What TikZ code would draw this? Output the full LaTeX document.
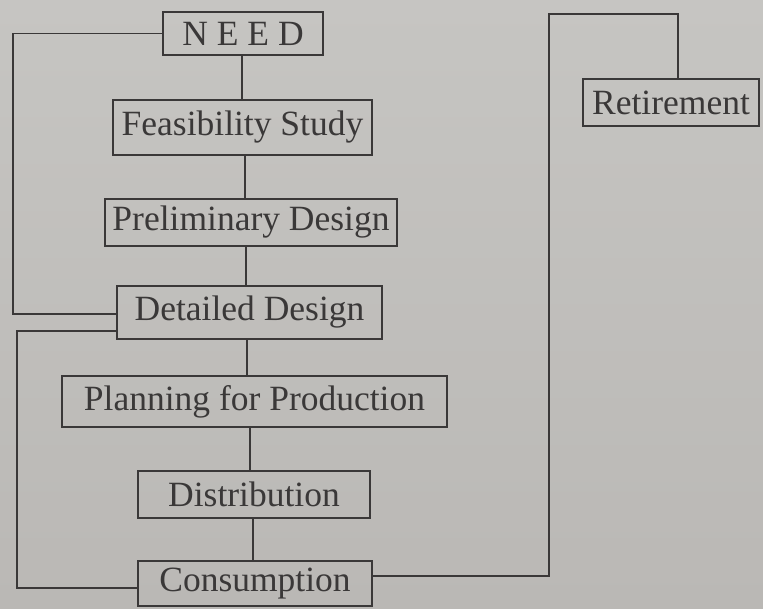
\documentclass[tikz,border=0pt]{standalone}
\usepackage{fontspec}
\setmainfont{Liberation Serif}
\definecolor{paper}{RGB}{198,197,194}
\definecolor{paperdark}{RGB}{186,184,181}
\definecolor{ink}{RGB}{58,56,56}
\begin{document}
\begin{tikzpicture}[x=1pt,y=-1pt,
  stage/.style={draw=ink, line width=1.4pt, text=ink, inner sep=0pt,
    font=\fontsize{35.5}{40}\selectfont},
  link/.style={draw=ink, line width=1.4pt}]
  % sheet
  \useasboundingbox (0,0) rectangle (763,608);
  \shade[top color=paper, bottom color=paperdark] (0,0) rectangle (763,608);

  % stages of the product life cycle
  \node[stage, minimum width=160pt, minimum height=43pt] (need) at (243,33.5) {N E E D};
  \node[stage, minimum width=259pt, minimum height=55pt] (feas) at (242.5,127.5) {Feasibility Study};
  \node[stage, minimum width=292pt, minimum height=47pt] (prel) at (251,222.5) {Preliminary Design};
  \node[stage, minimum width=265pt, minimum height=53pt] (det) at (249.5,312.5) {Detailed Design};
  \node[stage, minimum width=385pt, minimum height=51pt] (plan) at (254.5,401.5) {Planning for Production};
  \node[stage, minimum width=232pt, minimum height=47pt] (dist) at (254,494.5) {Distribution};
  \node[stage, minimum width=234pt, minimum height=45pt] (cons) at (255,583.5) {Consumption};
  \node[stage, minimum width=176pt, minimum height=47pt] (ret) at (671,102.5) {Retirement};

  % main chain
  \draw[link] ([xshift=-1pt]need.south) -- ([xshift=-1pt]need.south |- feas.north);
  \draw[link] ([xshift=2.5pt]feas.south) -- ([xshift=2.5pt]feas.south |- prel.north);
  \draw[link] ([xshift=-5pt]prel.south) -- ([xshift=-5pt]prel.south |- det.north);
  \draw[link] ([xshift=-2.5pt]det.south) -- ([xshift=-2.5pt]det.south |- plan.north);
  \draw[link] ([xshift=-4.5pt]plan.south) -- ([xshift=-4.5pt]plan.south |- dist.north);
  \draw[link] ([xshift=-1pt]dist.south) -- ([xshift=-1pt]dist.south |- cons.north);

  % feedback loops on the left
  \coordinate (loopa) at (13,200);
  \coordinate (loopb) at (17,450);
  \draw[link] (need.west) -| (loopa) |- ([yshift=-1.5pt]det.west);
  \draw[link] ([yshift=-18.5pt]det.west) -| (loopb) |- ([yshift=-4.5pt]cons.west);

  % path to retirement
  \coordinate (loopc) at (549,300);
  \coordinate (loopd) at (678,14);
  \draw[link] ([yshift=7.5pt]cons.east) -| (loopc) |- (loopd) -- (loopd |- ret.north);
\end{tikzpicture}
\end{document}
